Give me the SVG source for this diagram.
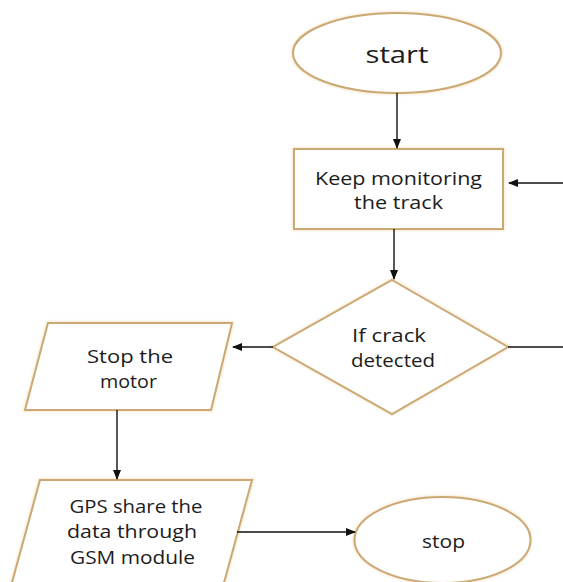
<svg xmlns="http://www.w3.org/2000/svg" width="563" height="582" viewBox="0 0 563 582">
<defs>
<marker id="arr" markerWidth="10" markerHeight="8" refX="9" refY="4" orient="auto" markerUnits="userSpaceOnUse">
<path d="M0,0 L10,4 L0,8 Z" fill="#111"/>
</marker>
<filter id="glow" x="-10%" y="-10%" width="120%" height="120%">
<feGaussianBlur stdDeviation="1.2"/>
</filter>
</defs>
<style>
.shape{fill:#fff;stroke:#cba874;stroke-width:2}
.halo{fill:none;stroke:#f6ead4;stroke-width:4;filter:url(#glow)}
.t{font-family:"Open Sans","Liberation Sans",sans-serif;font-size:18px;fill:#1c1c1c;text-anchor:middle}
.c{fill:none;stroke:#111;stroke-width:1.4}
</style>
<rect width="563" height="582" fill="#fff"/>
<g id="start">
<ellipse class="halo" cx="397" cy="53" rx="104" ry="40"/>
<ellipse class="shape" cx="397" cy="53" rx="104" ry="40"/>
<text class="t" x="397" y="63" style="font-size:23px" textLength="63" lengthAdjust="spacingAndGlyphs">start</text>
</g>
<g id="monitor">
<rect class="halo" x="294" y="149" width="209" height="80"/>
<rect class="shape" x="294" y="149" width="209" height="80"/>
<text class="t" x="398.5" y="185" textLength="167" lengthAdjust="spacingAndGlyphs">Keep monitoring</text>
<text class="t" x="398.5" y="209" textLength="89" lengthAdjust="spacingAndGlyphs">the track</text>
</g>
<g id="decision">
<polygon class="halo" points="392,280 508,347 392,414 273,347"/>
<polygon class="shape" points="392,280 508,347 392,414 273,347"/>
<text class="t" x="389" y="342" textLength="74" lengthAdjust="spacingAndGlyphs">If crack</text>
<text class="t" x="393" y="367" textLength="84" lengthAdjust="spacingAndGlyphs">detected</text>
</g>
<g id="stopmotor">
<polygon class="halo" points="48,323 232,323 211,410 25,410"/>
<polygon class="shape" points="48,323 232,323 211,410 25,410"/>
<text class="t" x="130" y="363" textLength="86" lengthAdjust="spacingAndGlyphs">Stop the</text>
<text class="t" x="128.5" y="388" textLength="57" lengthAdjust="spacingAndGlyphs">motor</text>
</g>
<g id="gps">
<polygon class="halo" points="40,480 252,480 222,590 10,590"/>
<polygon class="shape" points="40,480 252,480 222,590 10,590"/>
<text class="t" x="136" y="513" textLength="133" lengthAdjust="spacingAndGlyphs">GPS share the</text>
<text class="t" x="132" y="538" textLength="130" lengthAdjust="spacingAndGlyphs">data through</text>
<text class="t" x="132.5" y="564" textLength="125" lengthAdjust="spacingAndGlyphs">GSM module</text>
</g>
<g id="stop">
<ellipse class="halo" cx="442.5" cy="540" rx="88" ry="43"/>
<ellipse class="shape" cx="442.5" cy="540" rx="88" ry="43"/>
<text class="t" x="443.5" y="548" textLength="43" lengthAdjust="spacingAndGlyphs">stop</text>
</g>
<g id="connectors">
<line class="c" x1="397" y1="93" x2="397" y2="148" marker-end="url(#arr)"/>
<line class="c" x1="394" y1="229" x2="394" y2="279" marker-end="url(#arr)"/>
<line class="c" x1="563" y1="183" x2="509" y2="183" marker-end="url(#arr)"/>
<line class="c" x1="273" y1="347" x2="233" y2="347" marker-end="url(#arr)"/>
<line class="c" x1="508" y1="347" x2="563" y2="347"/>
<line class="c" x1="117" y1="410" x2="117" y2="479" marker-end="url(#arr)"/>
<line class="c" x1="237" y1="532" x2="355" y2="532" marker-end="url(#arr)"/>
</g>
</svg>
